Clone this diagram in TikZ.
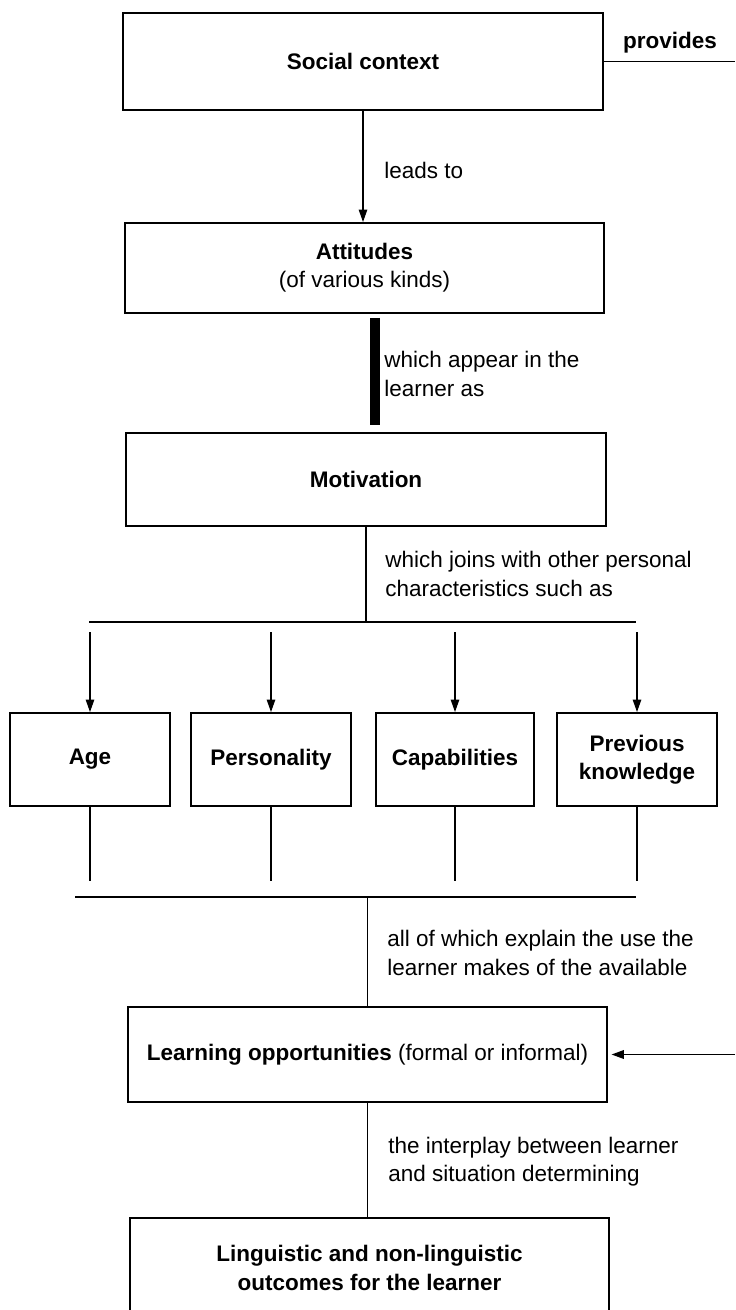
\documentclass[tikz,border=0pt]{standalone}
\usepackage{fontspec}
\setmainfont{Liberation Sans}
\usetikzlibrary{calc,arrows.meta}
\newcommand\diagfont{\fontsize{12.8}{16}\selectfont}
\tikzset{
  box/.style={draw, line width=1.1pt, align=center, font=\diagfont\bfseries},
  wide/.style={box, minimum width=9.6cm, minimum height=1.9cm},
  trait/.style={box, minimum width=3.2cm, minimum height=1.86cm},
  arr/.style={line width=0.7pt, -{Triangle[length=2.5mm,width=1.7mm]}},
  link/.style={line width=0.8pt},
  hline/.style={line width=1.2pt},
  lbl/.style={anchor=west, align=left, inner sep=0pt}
}

\begin{document}
\begin{tikzpicture}[x=0.02cm, y=-0.02cm, font=\diagfont]
  \useasboundingbox (0,0) rectangle (735,1310);
  \clip (0,0) rectangle (735,1310);
  \node[wide, minimum height=1.94cm] (social) at (363,61.5) {Social context};
  \node[wide, minimum height=1.8cm] (attitudes) at (364.5,268) {Attitudes\\\mdseries(of various kinds)};
  \node[wide, minimum height=1.86cm] (motivation) at (366,479.5) {Motivation};
  \node[trait] (age) at (90,759.5) {Age};
  \node[trait] (personality) at (271,759.5) {Personality};
  \node[trait, minimum width=3.16cm] (capabilities) at (455,759.5) {Capabilities};
  \node[trait] (previous) at (637,759.5) {Previous\\knowledge};
  \node[wide] (learning) at (367.5,1054.5) {Learning opportunities \mdseries(formal or informal)};
  \node[wide, minimum height=2cm] (outcomes) at (369.5,1268) {Linguistic and non-linguistic\\outcomes for the learner};
  \coordinate (provout) at (735,61.5); \coordinate (oppin) at (735,1054.5);
  \coordinate (barx) at (375,0);
  \coordinate (splitL) at (89,622); \coordinate (splitR) at (636,622);
  \coordinate (joinL) at (75,897); \coordinate (joinR) at (636,897);
  \draw[link] (social.east) -- (provout);
  \node[font=\diagfont\bfseries] (provides) at (670,43) {provides};
  \draw[arr] (social.south) -- (social.south |- attitudes.north);
  \node[lbl] (leads) at (384,170) {leads to};
  \draw[line width=0.2cm, shorten <=0.08cm, shorten >=0.14cm] (attitudes.south -| barx) -- (motivation.north -| barx);
  \node[lbl] (appear) at (384,374) {which appear in the\\learner as};
  \draw[link] (motivation.south) -- (motivation.south |- splitL);
  \node[lbl] (joins) at (385,574) {which joins with other personal\\characteristics such as};
  \draw[hline] (splitL) -- (splitR);
  \foreach \n in {age,personality,capabilities,previous} {
    \draw[arr] ([yshift=1.6cm]\n.north) -- (\n.north);
    \draw[link] (\n.south) -- ([yshift=-1.48cm]\n.south);
  }
  \draw[hline] (joinL) -- (joinR);
  \draw[link] (learning.north |- joinL) -- (learning.north);
  \node[lbl] (explain) at (387,953) {all of which explain the use the\\learner makes of the available};
  \draw[arr, line width=1.1pt, shorten >=0.06cm] (oppin) -- (learning.east);
  \draw[link] (learning.south) -- (learning.south |- outcomes.north);
  \node[lbl] (interplay) at (388,1162) {the interplay between learner\\and situation determining};
\end{tikzpicture}
\end{document}
